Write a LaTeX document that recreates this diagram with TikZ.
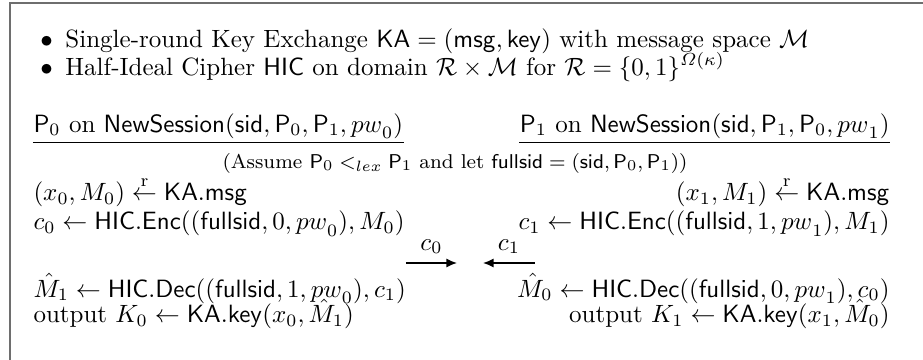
\documentclass[tikz,border=0pt]{standalone}
\usepackage{amsmath,amssymb}
\usepackage{xcolor}
\usetikzlibrary{arrows.meta,positioning}
\definecolor{framec}{HTML}{6E6E6E}
\newcommand{\sfn}[1]{\mathsf{#1}}
\newcommand{\rsmp}{\mathrel{\overset{\mathrm{r}}{\leftarrow}}}
\tikzset{
  lt/.style={anchor=base west,inner sep=0pt},
  rt/.style={anchor=base east,inner sep=0pt},
  msg/.style={-{Latex[length=1.5mm,width=1.3mm]},semithick},
  frm/.style={framec,line width=0.6pt}
}

\begin{document}
\begin{tikzpicture}[x=0.4pt,y=-0.4pt]
\useasboundingbox (0,0) rectangle (923,360);
% frame
\draw[frm] (10,360) -- (10,3) -- (923,3);
% assumptions
\node[lt] (b1) at (40,48) {$\bullet$\hspace{5pt}Single-round Key Exchange $\sfn{KA}=(\sfn{msg},\sfn{key})$ with message space $\mathcal{M}$};
\node[lt] (b2) at (40,75) {$\bullet$\hspace{5pt}Half-Ideal Cipher $\sfn{HIC}$ on domain $\mathcal{R}\times\mathcal{M}$ for $\mathcal{R}=\{0,1\}^{\varOmega(\kappa)}$};
% party headers
\node[lt] (h0) at (33,132) {$\sfn{P}_0$ on $\sfn{NewSession}(\sfn{sid},\sfn{P}_0,\sfn{P}_1,{pw}_0)$};
\node[rt] (h1) at (890,132) {$\sfn{P}_1$ on $\sfn{NewSession}(\sfn{sid},\sfn{P}_1,\sfn{P}_0,{pw}_1)$};
\draw ([yshift=-4pt]h0.base west) -- ([yshift=-4pt]h0.base east);
\draw ([yshift=-4pt]h1.base west) -- ([yshift=-4pt]h1.base east);
\node[anchor=base,inner sep=0pt,font=\footnotesize] (asm) at (455,168) {(Assume $\sfn{P}_0<_{lex}\sfn{P}_1$ and let $\sfn{fullsid}=(\sfn{sid},\sfn{P}_0,\sfn{P}_1)$)};
% P0 steps
\node[lt] (l1) at (33,201) {$(x_0,M_0)\rsmp\sfn{KA.msg}$};
\node[lt] (l2) at (33,230) {$c_0\gets\sfn{HIC.Enc}((\sfn{fullsid},0,{pw}_0),M_0)$};
\node[lt] (l3) at (33,297) {$\hat{M}_1\gets\sfn{HIC.Dec}((\sfn{fullsid},1,{pw}_0),c_1)$};
\node[lt] (l4) at (33,323) {output $K_0\gets\sfn{KA.key}(x_0,\hat{M}_1)$};
% P1 steps
\node[rt] (r1) at (890,201) {$(x_1,M_1)\rsmp\sfn{KA.msg}$};
\node[rt] (r2) at (890,230) {$c_1\gets\sfn{HIC.Enc}((\sfn{fullsid},1,{pw}_1),M_1)$};
\node[rt] (r3) at (890,297) {$\hat{M}_0\gets\sfn{HIC.Dec}((\sfn{fullsid},0,{pw}_1),c_0)$};
\node[rt] (r4) at (890,323) {output $K_1\gets\sfn{KA.key}(x_1,\hat{M}_0)$};
% messages
\coordinate (m0a) at (406,263);
\coordinate (m0b) at (457,263);
\coordinate (m1a) at (535,263);
\coordinate (m1b) at (483,263);
\draw[msg] (m0a) -- (m0b) node[midway,above=0pt] (lc0) {$c_0$};
\draw[msg] (m1a) -- (m1b) node[midway,above=0pt] (lc1) {$c_1$};
\end{tikzpicture}
\end{document}
